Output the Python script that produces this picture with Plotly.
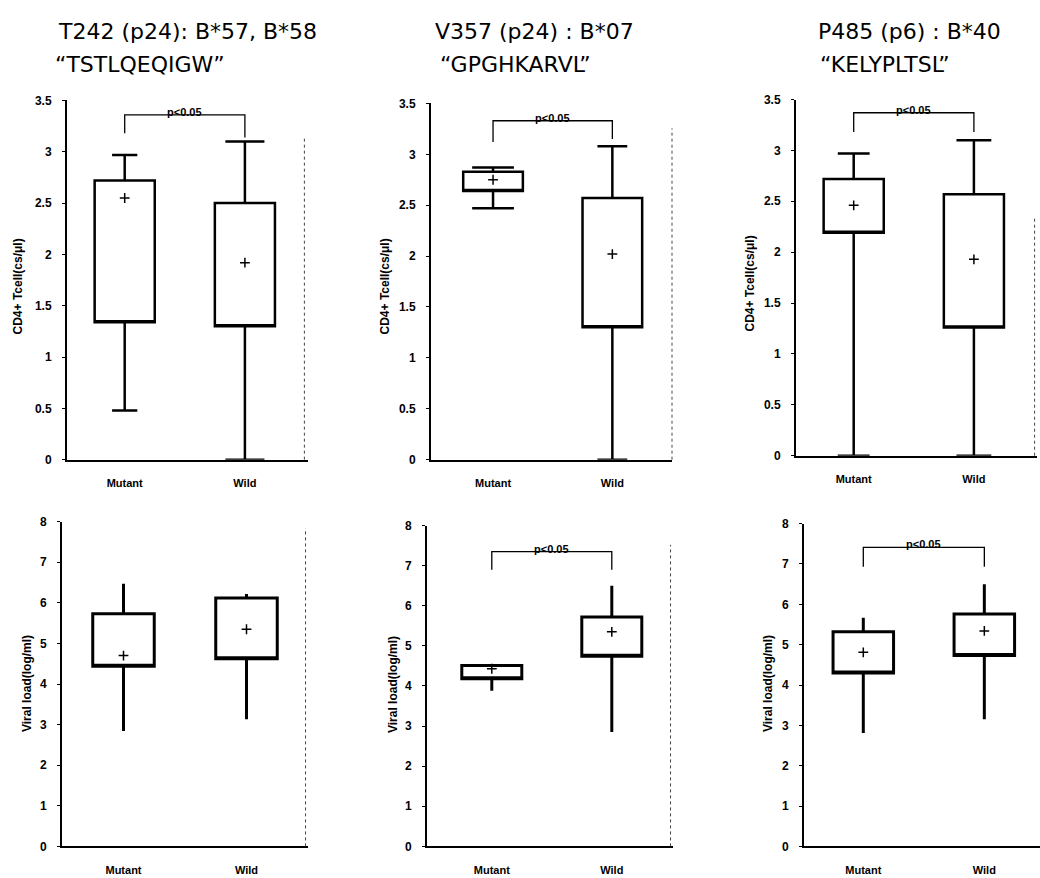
import plotly.graph_objects as go

# ---------------- data ----------------
categories = ["Mutant", "Wild"]

# CD4+ T cell counts (top row)
cd4_t242_q1 = [1.34, 1.30]
cd4_t242_q3 = [2.72, 2.50]
cd4_t242_lo = [0.48, 0.00]
cd4_t242_hi = [2.97, 3.10]
cd4_t242_mean = [2.55, 1.92]

cd4_v357_q1 = [2.64, 1.30]
cd4_v357_q3 = [2.83, 2.57]
cd4_v357_lo = [2.47, 0.00]
cd4_v357_hi = [2.87, 3.08]
cd4_v357_mean = [2.75, 2.02]

cd4_p485_q1 = [2.19, 1.26]
cd4_p485_q3 = [2.72, 2.57]
cd4_p485_lo = [0.00, 0.00]
cd4_p485_hi = [2.97, 3.10]
cd4_p485_mean = [2.46, 1.93]

# Viral load (bottom row)
vl_t242_q1 = [4.44, 4.62]
vl_t242_q3 = [5.73, 6.12]
vl_t242_lo = [2.84, 3.13]
vl_t242_hi = [6.47, 6.22]
vl_t242_mean = [4.70, 5.35]

vl_v357_q1 = [4.18, 4.74]
vl_v357_q3 = [4.51, 5.72]
vl_v357_lo = [3.88, 2.85]
vl_v357_hi = [4.55, 6.50]
vl_v357_mean = [4.43, 5.35]

vl_p485_q1 = [4.30, 4.73]
vl_p485_q3 = [5.32, 5.76]
vl_p485_lo = [2.81, 3.15]
vl_p485_hi = [5.67, 6.50]
vl_p485_mean = [4.81, 5.34]

titles_line1 = ["T242 (p24): B*57, B*58", "V357 (p24) : B*07", "P485 (p6) : B*40"]
titles_line2 = ["“TSTLQEQIGW”", "“GPGHKARVL”", "“KELYPLTSL”"]
cd4_title = "CD4+ Tcell(cs/μl)"
vl_title = "Viral load(log/ml)"
sig_text = "p<0.05"

# ---------------- layout helpers ----------------
W, H = 1040, 878


def fx(p):
    return min(max(p / W, 0), 1)


def fy(p):
    return min(max(1 - p / H, 0), 1)


FONT = "Arial, Liberation Sans, sans-serif"
TFONT = "DejaVu Sans, sans-serif"

panels = [
    dict(q1=cd4_t242_q1, q3=cd4_t242_q3, lo=cd4_t242_lo, hi=cd4_t242_hi, mean=cd4_t242_mean,
         xpx=(67, 308), ypx=(95, 460), xr=(-0.48, 1.525), ymax=3.5, dtick=0.5, ww=[0.42, 0.65], lw=2.5,
         bracket=(3.18, 3.36, 3.14), border=(0.985, 0.0, 0.9), ytitle=cd4_title, ytx=18, yty=284),
    dict(q1=cd4_v357_q1, q3=cd4_v357_q3, lo=cd4_v357_lo, hi=cd4_v357_hi, mean=cd4_v357_mean,
         xpx=(431, 672), ypx=(98, 460), xr=(-0.52, 1.5), ymax=3.5, dtick=0.5, ww=[0.7, 0.5], lw=2.5,
         bracket=(3.12, 3.33, 3.15), border=(1.0, 0.0, 0.93), ytitle=cd4_title, ytx=385, yty=284),
    dict(q1=cd4_p485_q1, q3=cd4_p485_q3, lo=cd4_p485_lo, hi=cd4_p485_hi, mean=cd4_p485_mean,
         xpx=(796, 1037), ypx=(94, 456), xr=(-0.48, 1.525), ymax=3.5, dtick=0.5, ww=[0.53, 0.58], lw=2.5,
         bracket=(3.18, 3.37, 3.18), border=(0.99, 0.0, 0.67), ytitle=cd4_title, ytx=750, yty=281),
    dict(q1=vl_t242_q1, q3=vl_t242_q3, lo=vl_t242_lo, hi=vl_t242_hi, mean=vl_t242_mean,
         xpx=(62, 308), ypx=(523, 853), xr=(-0.5, 1.5), ymax=8, dtick=1, ww=[0, 0], lw=3,
         bracket=None, border=(0.99, 0.0, 0.98), ytitle=vl_title, ytx=27, yty=688),
    dict(q1=vl_v357_q1, q3=vl_v357_q3, lo=vl_v357_lo, hi=vl_v357_hi, mean=vl_v357_mean,
         xpx=(427, 673), ypx=(527, 853), xr=(-0.54, 1.51), ymax=8, dtick=1, ww=[0, 0], lw=3,
         bracket=(6.9, 7.35, 6.9), border=(0.99, 0.0, 0.94), ytitle=vl_title, ytx=393, yty=689),
    dict(q1=vl_p485_q1, q3=vl_p485_q3, lo=vl_p485_lo, hi=vl_p485_hi, mean=vl_p485_mean,
         xpx=(804, 1040), ypx=(525, 853), xr=(-0.49, 1.46), ymax=8, dtick=1, ww=[0, 0], lw=3,
         bracket=(6.93, 7.41, 6.93), border=None, ytitle=vl_title, ytx=768, yty=688),
]

title_pos = [(56, 25, 53, 58), (433, 25, 438, 58), (816, 25, 818, 58)]

fig = go.Figure()
layout = dict(
    width=W, height=H, margin=dict(l=0, r=0, t=0, b=0),
    paper_bgcolor="white", plot_bgcolor="white", showlegend=False,
    boxmode="overlay", font=dict(family=FONT, color="black"),
)
annotations = []
shapes = []

for i, p in enumerate(panels):
    n = "" if i == 0 else str(i + 1)
    xa, ya = "x" + n, "y" + n

    for k, cat in enumerate(categories):
        fig.add_trace(go.Box(
            x=[cat], q1=[p["q1"][k]], median=[p["q1"][k]], q3=[p["q3"][k]],
            lowerfence=[p["lo"][k]], upperfence=[p["hi"][k]],
            width=0.5, whiskerwidth=p["ww"][k],
            fillcolor="white", line=dict(color="black", width=p["lw"]),
            boxpoints=False, xaxis=xa, yaxis=ya, hoverinfo="skip",
        ))
    fig.add_trace(go.Scatter(
        x=categories, y=p["mean"], mode="markers",
        marker=dict(symbol="cross-thin", size=7, line=dict(color="black", width=1.5)),
        xaxis=xa, yaxis=ya, hoverinfo="skip",
    ))

    if p["bracket"] is not None:
        l, t, r = p["bracket"]
        fig.add_trace(go.Scatter(
            x=[categories[0], categories[0], categories[1], categories[1]],
            y=[l, t, t, r], mode="lines",
            line=dict(color="black", width=1.3), xaxis=xa, yaxis=ya, hoverinfo="skip",
        ))
        annotations.append(dict(
            x=0.5, y=t, xref=xa, yref=ya, text=sig_text, showarrow=False,
            xanchor="center", yanchor="bottom", yshift=-5,
            font=dict(size=11, family=FONT, weight="bold", color="black"),
        ))

    if p["border"] is not None:
        bx, by0, by1 = p["border"]
        shapes.append(dict(
            type="line", xref=xa + " domain", yref=ya + " domain",
            x0=bx, x1=bx, y0=by0, y1=by1,
            line=dict(color="#444", width=1, dash="dot"),
        ))

    layout["xaxis" + n] = dict(
        domain=[fx(p["xpx"][0]), fx(p["xpx"][1])], anchor=ya,
        type="category", categoryorder="array", categoryarray=categories,
        range=list(p["xr"]), showline=True, linecolor="black", linewidth=2,
        ticks="", showgrid=False, zeroline=False, fixedrange=True,
        tickfont=dict(size=11, family=FONT, weight="bold", color="black"),
        ticklabelstandoff=12,
    )
    layout["yaxis" + n] = dict(
        domain=[fy(p["ypx"][1]), fy(p["ypx"][0])], anchor=xa,
        range=[0, p["ymax"]], dtick=p["dtick"], tick0=0,
        showline=True, linecolor="black", linewidth=2,
        ticks="outside", ticklen=3, tickcolor="black", tickwidth=1,
        showgrid=False, zeroline=False, ticklabelstandoff=8, fixedrange=True,
        tickfont=dict(size=12, family=FONT, weight="bold", color="black"),
    )

    annotations.append(dict(
        x=fx(p["ytx"]), y=fy(p["yty"]), xref="paper", yref="paper",
        text=p["ytitle"], textangle=-90, showarrow=False,
        xanchor="center", yanchor="middle",
        font=dict(size=12, family=FONT, weight="bold", color="black"),
    ))

for j in range(3):
    x1, y1, x2, y2 = title_pos[j]
    annotations.append(dict(
        x=fx(x1), y=fy(y1), xref="paper", yref="paper", text=titles_line1[j],
        showarrow=False, xanchor="left", yanchor="middle",
        font=dict(size=22, family=TFONT, color="black"),
    ))
    annotations.append(dict(
        x=fx(x2), y=fy(y2), xref="paper", yref="paper", text=titles_line2[j],
        showarrow=False, xanchor="left", yanchor="middle",
        font=dict(size=22, family=TFONT, color="black"),
    ))

layout["annotations"] = annotations
layout["shapes"] = shapes
fig.update_layout(**layout)

# remove the default 8px page margin so the 1040x878 figure fills the window exactly
fig.write_html(
    "out.html",
    config={"displayModeBar": False},
    post_script="document.body.style.margin='0px';",
)
